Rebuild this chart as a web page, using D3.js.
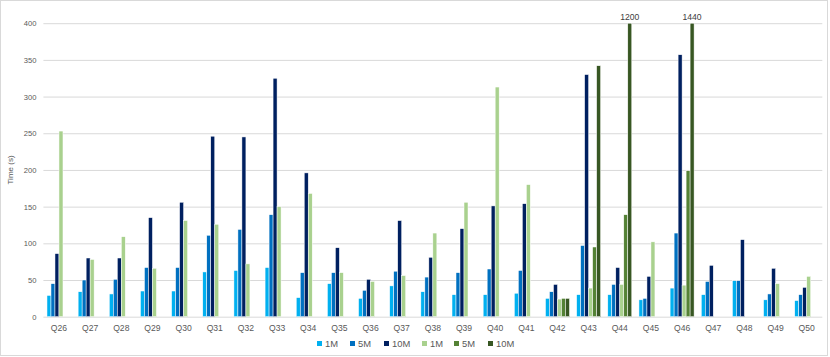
<!DOCTYPE html>
<html>
<head>
<meta charset="utf-8">
<script src="https://cdn.jsdelivr.net/npm/d3@7"></script>
<style>
  html, body { margin: 0; padding: 0; background: #fff; }
  svg { display: block; font-family: "Liberation Sans", Arial, sans-serif; }
</style>
</head>
<body>
<svg id="chart" width="830" height="357"></svg>
<script>
const categories = ["Q26","Q27","Q28","Q29","Q30","Q31","Q32","Q33","Q34","Q35","Q36","Q37","Q38","Q39","Q40","Q41","Q42","Q43","Q44","Q45","Q46","Q47","Q48","Q49","Q50"];
const seriesNames = ["1M","5M","10M","1M","5M","10M"];
const blue1M  = [29,34,31,35,35,61,63,67,26,45,25,42,34,30,30,32,25,30,30,23,39,30,49,23,22];
const blue5M  = [45,50,51,67,67,111,119,139,60,60,36,62,54,60,65,63,34,97,44,25,114,48,49,31,30];
const blue10M = [86,80,80,135,156,246,245,325,196,94,51,131,81,120,151,154,44,330,67,55,357,70,105,66,40];
const green1M = [253,78,109,66,131,126,72,150,168,60,48,56,114,156,313,180,24,39,44,102,43,null,null,45,55];
const green5M = [null,null,null,null,null,null,null,null,null,null,null,null,null,null,null,null,25,95,139,null,199,null,null,null,null];
const green10M= [null,null,null,null,null,null,null,null,null,null,null,null,null,null,null,null,25,342,1200,null,1440,null,null,null,null];
const yTicks = [0,50,100,150,200,250,300,350,400];
const colors = ["#00B0F0","#0070C0","#002060","#A9D18E","#548235","#385723"];

const seriesValues = [blue1M, blue5M, blue10M, green1M, green5M, green10M];

const svg = d3.select("#chart");

// outer frame
svg.append("rect").attr("x",0.5).attr("y",0.5).attr("width",827).attr("height",355)
  .attr("fill","#fff").attr("stroke","#D9D9D9").attr("stroke-width",1);

const plotLeft = 43.4, plotRight = 822.3, plotTop = 23.2, plotBottom = 316.7;

const y = d3.scaleLinear().domain([0,400]).range([plotBottom, plotTop]).clamp(true);
const x0 = d3.scaleBand().domain(categories).range([plotLeft, plotRight]).paddingInner(0.23).paddingOuter(0.115);
const x1 = d3.scaleBand().domain(d3.range(seriesValues.length)).range([0, x0.bandwidth()]).padding(0);

// gridlines
const yAxis = d3.axisLeft(y).tickValues(yTicks).tickSize(-(plotRight-plotLeft)).tickPadding(6);
const gy = svg.append("g").attr("transform", `translate(${plotLeft},0)`).call(yAxis);
gy.select(".domain").remove();
gy.selectAll(".tick line").attr("stroke","#D9D9D9").attr("stroke-width",1);
gy.selectAll(".tick text").attr("fill","#595959").style("font-size","7.6px")
  .style("font-family","'Liberation Sans', Arial, sans-serif").attr("x",-7);

// bars
const groups = svg.append("g").selectAll("g").data(categories).join("g")
  .attr("transform", d => `translate(${x0(d)},0)`);

groups.selectAll("rect")
  .data((c, ci) => seriesValues.map((arr, si) => ({si, v: arr[ci]})).filter(d => d.v != null))
  .join("rect")
  .attr("x", d => x1(d.si))
  .attr("width", x1.bandwidth())
  .attr("y", d => y(d.v))
  .attr("height", d => y(0) - y(d.v))
  .attr("fill", d => colors[d.si])
  .attr("stroke", "#fff")
  .attr("stroke-width", 0.5);

// labels for clipped bars
const overflow = [];
seriesValues.forEach((arr, si) => arr.forEach((v, ci) => { if (v != null && v > 400) overflow.push({si, ci, v}); }));
svg.append("g").selectAll("text").data(overflow).join("text")
  .attr("x", d => x0(categories[d.ci]) + x1(d.si) + x1.bandwidth()/2)
  .attr("y", y(400) - 3)
  .attr("text-anchor","middle")
  .attr("fill","#404040")
  .style("font-size","8.6px")
  .text(d => d.v);

// x axis labels
const xAxis = d3.axisBottom(x0).tickSize(0).tickPadding(8);
const gx = svg.append("g").attr("transform", `translate(0,${plotBottom})`).call(xAxis);
gx.select(".domain").remove();
gx.selectAll(".tick text").attr("fill","#595959").style("font-size","8.6px")
  .style("font-family","'Liberation Sans', Arial, sans-serif");

// y title
svg.append("text").attr("transform", `translate(13,${(plotTop+plotBottom)/2}) rotate(-90)`)
  .attr("text-anchor","middle").attr("fill","#595959").style("font-size","8px").text("Time (s)");

// legend
const legendX = [317, 350, 384, 422, 454, 488];
const lg = svg.append("g").selectAll("g").data(seriesNames).join("g")
  .attr("transform", (d,i) => `translate(${legendX[i]},344)`);
lg.append("rect").attr("x",0).attr("y",-3).attr("width",5).attr("height",5).attr("fill",(d,i)=>colors[i]);
lg.append("text").attr("x",8).attr("y",2.8).attr("fill","#595959").style("font-size","9.4px").text(d=>d);
</script>
</body>
</html>
